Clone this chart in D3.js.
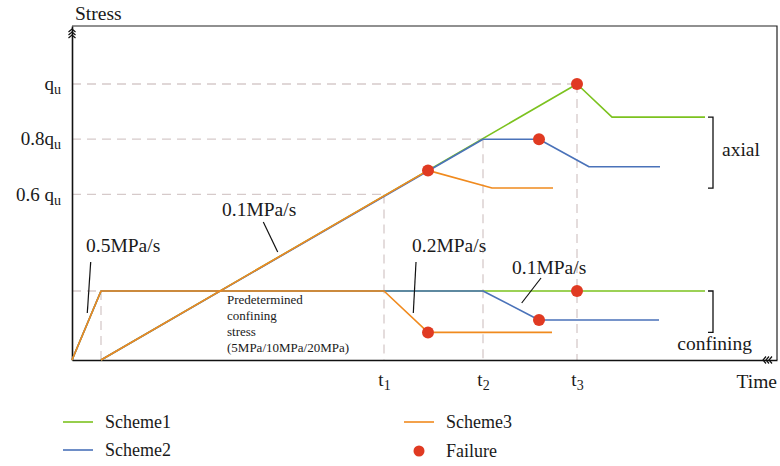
<!DOCTYPE html>
<html>
<head>
<meta charset="utf-8">
<script src="https://cdn.jsdelivr.net/npm/d3@7"></script>
<style>
  html, body { margin: 0; padding: 0; background: #fff; }
  svg text { font-family: "Liberation Serif", "DejaVu Serif", serif; fill: #1a1a1a; }
</style>
</head>
<body>
<svg id="chart" width="780" height="466"></svg>
<script>
// ---- data (time in arbitrary units, stress as a fraction of q_u) ----
const timeMarks = [31.2, 41.1, 50.5];
const timeSubs = ["1", "2", "3"];
const stressLevels = [0.6, 0.8, 1.0];
const stressLabels = [["0.6 q", "u"], ["0.8q", "u"], ["q", "u"]];
const confiningLevel = 0.25;
const preloadEnd = 2.9;

const scheme1Axial = [[2.9, 0], [50.5, 1.0], [54.0, 0.88], [63.3, 0.88]];
const scheme1Confining = [[0, 0], [2.9, 0.25], [63.3, 0.25]];
const scheme2Axial = [[2.9, 0], [41.1, 0.8], [46.7, 0.8], [51.7, 0.70], [58.8, 0.70]];
const scheme2Confining = [[0, 0], [2.9, 0.25], [41.1, 0.25], [46.7, 0.145], [58.7, 0.145]];
const scheme3Axial = [[2.9, 0], [35.6, 0.687], [42.0, 0.623], [48.1, 0.623]];
const scheme3Confining = [[0, 0], [2.9, 0.25], [31.2, 0.25], [35.6, 0.10], [48.0, 0.10]];
const failurePoints = [[50.5, 1.0], [50.5, 0.25], [46.7, 0.8], [46.7, 0.145], [35.6, 0.687], [35.6, 0.10]];

const seriesNames = ["Scheme1", "Scheme2", "Scheme3"];
const seriesColors = ["#7cc21f", "#4a72b9", "#f08a1e"];
const failureColor = "#e03a22";

// ---- layout ----
const svg = d3.select("#chart");
const x = d3.scaleLinear().domain([0, 70.5]).range([72, 777]);
const y = d3.scaleLinear().domain([0, 334 / 276]).range([360, 26]);
const line = d3.line().x(d => x(d[0])).y(d => y(d[1]));
const gridColor = "#d6caca";

// frame (top and right)
svg.append("path")
  .attr("d", `M${x(0)},${y.range()[1]}H${x.range()[1]}V${y(0)}`)
  .attr("fill", "none").attr("stroke", "#222").attr("stroke-width", 1.2);

// dashed guide lines
const guides = svg.append("g").attr("stroke", gridColor).attr("stroke-width", 1.3)
  .attr("stroke-dasharray", "9,6").attr("fill", "none");
const guidePairs = [[preloadEnd, confiningLevel], ...timeMarks.map((t, i) => [t, stressLevels[i]])];
guidePairs.forEach(([t, s]) => {
  guides.append("path").attr("d", `M${x(0)},${y(s)}H${x(t)}`);
  guides.append("path").attr("d", `M${x(t)},${y(s)}V${y(0)}`);
});

// axes
const yAxis = svg.append("g").attr("transform", `translate(${x(0)},0)`)
  .call(d3.axisLeft(y).tickValues(stressLevels).tickSize(0).tickSizeOuter(0).tickPadding(11));
const xAxis = svg.append("g").attr("transform", `translate(0,${y(0)})`)
  .call(d3.axisBottom(x).tickValues(timeMarks).tickSize(0).tickSizeOuter(0).tickPadding(13));
[yAxis, xAxis].forEach(g => {
  g.select(".domain").attr("stroke", "#111").attr("stroke-width", 1.6);
  g.selectAll("text").attr("font-family", null).attr("font-size", 19).attr("fill", "#1a1a1a");
});
yAxis.selectAll(".tick text").each(function (d, i) {
  const t = d3.select(this).text("").attr("dy", "0.3em");
  t.append("tspan").text(stressLabels[i][0]);
  t.append("tspan").text(stressLabels[i][1]).attr("font-size", 14).attr("dy", 4);
});
xAxis.selectAll(".tick text").each(function (d, i) {
  const t = d3.select(this).text("").attr("dy", "0.71em");
  t.append("tspan").text("t");
  t.append("tspan").text(timeSubs[i]).attr("font-size", 14).attr("dy", 4);
});

// axis break marks
const brk = svg.append("g").attr("stroke", "#111").attr("stroke-width", 1.2).attr("fill", "none");
[29, 32, 35].forEach(v => brk.append("path").attr("d", `M${x(0) - 3.5},${v + 3}L${x(0)},${v}L${x(0) + 3.5},${v + 3}`));
[763, 766, 769].forEach(u => brk.append("path").attr("d", `M${u + 3},${y(0) - 3.5}L${u},${y(0)}L${u + 3},${y(0) + 3.5}`));

// axis titles
svg.append("text").attr("x", 75).attr("y", 20).attr("font-size", 19.5).text("Stress");
svg.append("text").attr("x", 777).attr("y", 388).attr("text-anchor", "end").attr("font-size", 19.5).text("Time");

// loading paths
const allSeries = [
  [scheme1Axial, scheme1Confining],
  [scheme2Axial, scheme2Confining],
  [scheme3Axial, scheme3Confining]
];
const paths = svg.append("g").attr("fill", "none").attr("stroke-width", 1.6).attr("stroke-linejoin", "round");
allSeries.forEach((pair, i) => {
  pair.forEach(p => paths.append("path").attr("d", line(p)).attr("stroke", seriesColors[i]));
});

// failure points
svg.append("g").selectAll("circle").data(failurePoints).join("circle")
  .attr("cx", d => x(d[0])).attr("cy", d => y(d[1])).attr("r", 6).attr("fill", failureColor);

// loading-rate annotations with leader lines
const notes = [
  { text: "0.5MPa/s", tx: 86, ty: 252, line: [[90.7, 262], [87.3, 313]] },
  { text: "0.1MPa/s", tx: 222, ty: 216, line: [[263.3, 222], [277.7, 252]] },
  { text: "0.2MPa/s", tx: 412, ty: 252, line: [[416, 262], [413.3, 313]] },
  { text: "0.1MPa/s", tx: 512, ty: 274, line: [[541, 278], [521.7, 303]] }
];
const ann = svg.append("g");
notes.forEach(n => {
  ann.append("text").attr("x", n.tx).attr("y", n.ty).attr("font-size", 19.5).text(n.text);
  ann.append("path").attr("d", d3.line()(n.line)).attr("stroke", "#111").attr("stroke-width", 1.2);
});

// confining-stress note
const noteLines = ["Predetermined", "confining", "stress", "(5MPa/10MPa/20MPa)"];
svg.append("g").selectAll("text").data(noteLines).join("text")
  .attr("x", 227).attr("y", (d, i) => 304 + i * 16).attr("font-size", 13).text(d => d);

// brackets grouping the final axial / confining stresses
const ends = allSeries.map(p => [p[0][p[0].length - 1][1], p[1][p[1].length - 1][1]]);
const axialEnds = d3.extent(ends, d => d[0]);
const confEnds = d3.extent([confiningLevel, ...ends.map(d => d[1])]);
const bx = 708;
[[axialEnds, "axial", 722, y((axialEnds[0] + axialEnds[1]) / 2) + 3, "start"],
 [confEnds, "confining", 752, 350, "end"]].forEach(([ext, label, lx, ly, anchor]) => {
  svg.append("path").attr("d", `M${bx},${y(ext[1])}H${bx + 5}V${y(ext[0])}H${bx}`)
    .attr("fill", "none").attr("stroke", "#111").attr("stroke-width", 1.3);
  svg.append("text").attr("x", lx).attr("y", ly).attr("text-anchor", anchor).attr("font-size", 19.5).text(label);
});

// legend
const legendItems = [
  { name: seriesNames[0], color: seriesColors[0], type: "line", lx: 63, ly: 422 },
  { name: seriesNames[1], color: seriesColors[1], type: "line", lx: 63, ly: 450 },
  { name: seriesNames[2], color: seriesColors[2], type: "line", lx: 404, ly: 422 },
  { name: "Failure", color: failureColor, type: "dot", lx: 404, ly: 451 }
];
const lg = svg.append("g");
legendItems.forEach(it => {
  if (it.type === "line") {
    lg.append("path").attr("d", `M${it.lx},${it.ly}h30`).attr("stroke", it.color).attr("stroke-width", 1.6);
  } else {
    lg.append("circle").attr("cx", it.lx + 15).attr("cy", it.ly).attr("r", 5.5).attr("fill", it.color);
  }
  lg.append("text").attr("x", it.lx + 42).attr("y", it.ly + 5.5).attr("font-size", 18).text(it.name);
});
</script>
</body>
</html>
